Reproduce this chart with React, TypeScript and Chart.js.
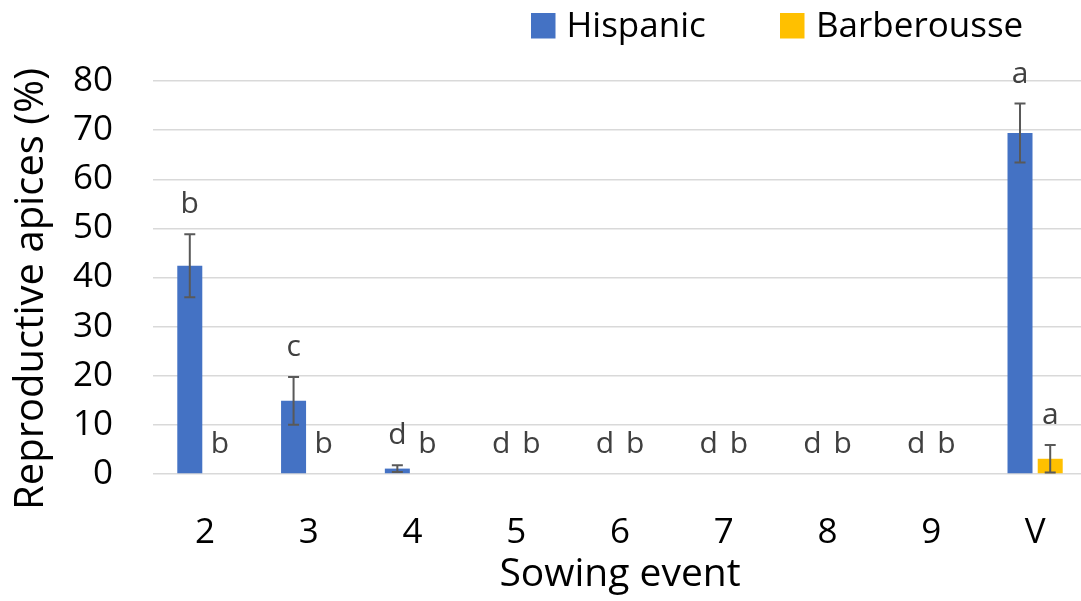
import React, { useEffect, useRef } from 'react';
import { Chart, registerables } from 'chart.js';

Chart.register(...registerables);

const categories = ['2', '3', '4', '5', '6', '7', '8', '9', 'V'];
const seriesNames = ['Hispanic', 'Barberousse'];
const hispanicValues = [42.4, 14.9, 1.1, 0, 0, 0, 0, 0, 69.4];
const hispanicErrors = [6.4, 4.85, 0.7, 0, 0, 0, 0, 0, 6.0];
const barberousseValues = [0, 0, 0, 0, 0, 0, 0, 0, 3.1];
const barberousseErrors = [0, 0, 0, 0, 0, 0, 0, 0, 2.8];
const hispanicLetters = ['b', 'c', 'd', 'd', 'd', 'd', 'd', 'd', 'a'];
const barberousseLetters = ['b', 'b', 'b', 'b', 'b', 'b', 'b', 'b', 'a'];
const yMin = 0;
const yMax = 80;
const yStep = 10;
const xTitle = 'Sowing event';
const yTitle = 'Reproductive apices (%)';

const colors = ['#4472C4', '#FFC000'];
const FONT = '"Open Sans", "DejaVu Sans", sans-serif';

const errorsBySeries = [hispanicErrors, barberousseErrors];
const lettersBySeries = [hispanicLetters, barberousseLetters];

const annotationPlugin = {
  id: 'errorsAndLetters',
  afterDatasetsDraw(chart: any) {
    const ctx = chart.ctx;
    const yScale = chart.scales.y;
    ctx.save();
    chart.data.datasets.forEach((ds: any, i: number) => {
      const meta = chart.getDatasetMeta(i);
      const errs = errorsBySeries[i];
      const letters = lettersBySeries[i];
      meta.data.forEach((bar: any, j: number) => {
        const v = ds.data[j];
        const e = errs[j];
        const x = bar.x;
        const yTop = yScale.getPixelForValue(v + e);
        if (e > 0) {
          const yBot = yScale.getPixelForValue(Math.max(v - e, 0));
          ctx.strokeStyle = '#595959';
          ctx.lineWidth = 2;
          ctx.beginPath();
          ctx.moveTo(x, yTop);
          ctx.lineTo(x, yBot);
          ctx.moveTo(x - 5.5, yTop);
          ctx.lineTo(x + 5.5, yTop);
          if (v - e > 0) {
            ctx.moveTo(x - 5.5, yBot);
            ctx.lineTo(x + 5.5, yBot);
          }
          ctx.stroke();
        }
        ctx.fillStyle = '#404040';
        ctx.font = `30px ${FONT}`;
        ctx.textAlign = 'center';
        ctx.textBaseline = 'alphabetic';
        ctx.fillText(letters[j], x, yTop - 21);
      });
    });
    ctx.restore();
  },
  afterDraw(chart: any) {
    const ctx = chart.ctx;
    ctx.save();
    const boxes = [
      { x: 531, textX: 566.5 },
      { x: 780, textX: 816 },
    ];
    chart.data.datasets.forEach((ds: any, i: number) => {
      const b = boxes[i];
      ctx.fillStyle = ds.backgroundColor;
      ctx.fillRect(b.x, 13, 24.5, 25.5);
      ctx.fillStyle = '#000';
      ctx.font = `35px ${FONT}`;
      ctx.textAlign = 'left';
      ctx.textBaseline = 'alphabetic';
      ctx.fillText(ds.label, b.textX, 36.7);
    });
    // y-axis title (offset slightly below the plot-area centre, as in the reference)
    ctx.translate(32, 289);
    ctx.rotate(-Math.PI / 2);
    ctx.fillStyle = '#000';
    ctx.font = `40px ${FONT}`;
    ctx.textAlign = 'center';
    ctx.textBaseline = 'middle';
    ctx.fillText(yTitle, 0, 0);
    ctx.restore();
  },
};

export default function App() {
  const ref = useRef<HTMLCanvasElement | null>(null);

  useEffect(() => {
    if (!ref.current) return;
    const chart = new Chart(ref.current, {
      type: 'bar',
      data: {
        labels: categories,
        datasets: [
          {
            label: seriesNames[0],
            data: hispanicValues,
            backgroundColor: colors[0],
            categoryPercentage: 0.582,
            barPercentage: 0.828,
          },
          {
            label: seriesNames[1],
            data: barberousseValues,
            backgroundColor: colors[1],
            categoryPercentage: 0.582,
            barPercentage: 0.828,
          },
        ],
      },
      options: {
        responsive: false,
        animation: false,
        devicePixelRatio: 1,
        layout: { padding: { top: 81, right: 3, left: 0, bottom: 0 } },
        plugins: {
          legend: { display: false },
          tooltip: { enabled: false },
        },
        scales: {
          x: {
            type: 'category',
            offset: true,
            grid: { display: false },
            border: { display: false },
            ticks: {
              color: '#000',
              font: { family: FONT, size: 35 },
              padding: 30,
            },
            title: {
              display: true,
              text: xTitle,
              color: '#000',
              font: { family: FONT, size: 39 },
              padding: { top: 0, bottom: 3 },
            },
            afterFit: (s: any) => {
              s.height = 127;
            },
          },
          y: {
            min: yMin,
            max: yMax,
            grid: { color: '#D9D9D9', lineWidth: 1.5, drawTicks: false },
            border: { display: false },
            ticks: {
              stepSize: yStep,
              color: '#000',
              font: { family: FONT, size: 35 },
              padding: 40,
            },
            title: {
              display: false,
              text: yTitle,
            },
            afterFit: (s: any) => {
              s.width = 153;
            },
          },
        },
      } as any,
      plugins: [annotationPlugin],
    });
    return () => chart.destroy();
  }, []);

  return (
    <div
      style={{
        position: 'fixed',
        left: 0,
        top: 0,
        width: 1081,
        height: 601,
        overflow: 'hidden',
        background: '#fff',
      }}
    >
      <canvas ref={ref} width={1090} height={601} style={{ display: 'block' }} />
    </div>
  );
}
